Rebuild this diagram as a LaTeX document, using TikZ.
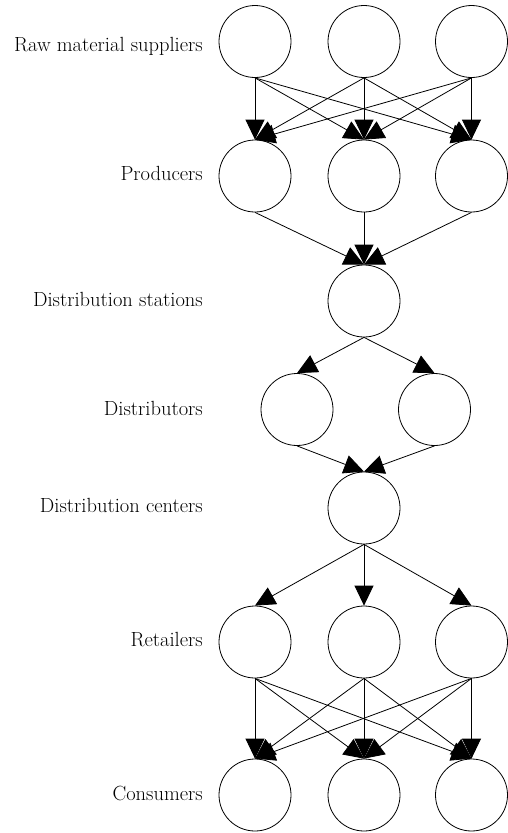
\documentclass[tikz,border=0pt]{standalone}
\usepackage{tikz}
\usetikzlibrary{arrows.meta,positioning}

\begin{document}
\begin{tikzpicture}[x=1pt,y=-1pt,
	unit/.style={circle,draw,line width=0.8pt,minimum size=72pt,inner sep=0pt},
	flow/.style={line width=0.8pt,-{Triangle[width=19pt,length=20pt]}},
	tier/.style={anchor=base east,inner sep=0pt,font=\fontsize{20.5}{24}\selectfont}]
			\useasboundingbox (0,0) rectangle (508,833);
			% circles
			\foreach \n/\x in {1/255,2/364,3/471.5} {
				\node[unit] (s\n) at (\x,41.5) {};
				\node[unit] (p\n) at (\x,176) {};
				\node[unit] (r\n) at (\x,642) {};
				\node[unit] (c\n) at (\x,795) {};
			}
			\node[unit] (ds) at (364,301) {};
			\node[unit] (d1) at (297,409.5) {};
			\node[unit] (d2) at (434.5,409.5) {};
			\node[unit] (dc) at (364,508) {};

			% tier names
			\node[tier] (ls) at (203,51.7) {Raw material suppliers};
			\node[tier] (lp) at (203,180.7) {Producers};
			\node[tier] (lds) at (203,306.7) {Distribution stations};
			\node[tier] (ld) at (203,415) {Distributors};
			\node[tier] (ldc) at (203,512.3) {Distribution centers};
			\node[tier] (lr) at (203,646.7) {Retailers};
			\node[tier] (lc) at (203,800) {Consumers};

			% flows
			\foreach \i in {1,2,3} \foreach \j in {1,2,3} {
				\draw[flow] (s\i.south) -- (p\j.north);
				\draw[flow] (r\i.south) -- (c\j.north);
			}
			\foreach \i in {1,2,3} \draw[flow] (p\i.south) -- (ds.north);
			\foreach \i in {1,2} {
				\draw[flow] (ds.south) -- (d\i.north);
				\draw[flow] (d\i.south) -- (dc.north);
			}
			\foreach \i in {1,2,3} \draw[flow] (dc.south) -- (r\i.north);
\end{tikzpicture}
\end{document}
